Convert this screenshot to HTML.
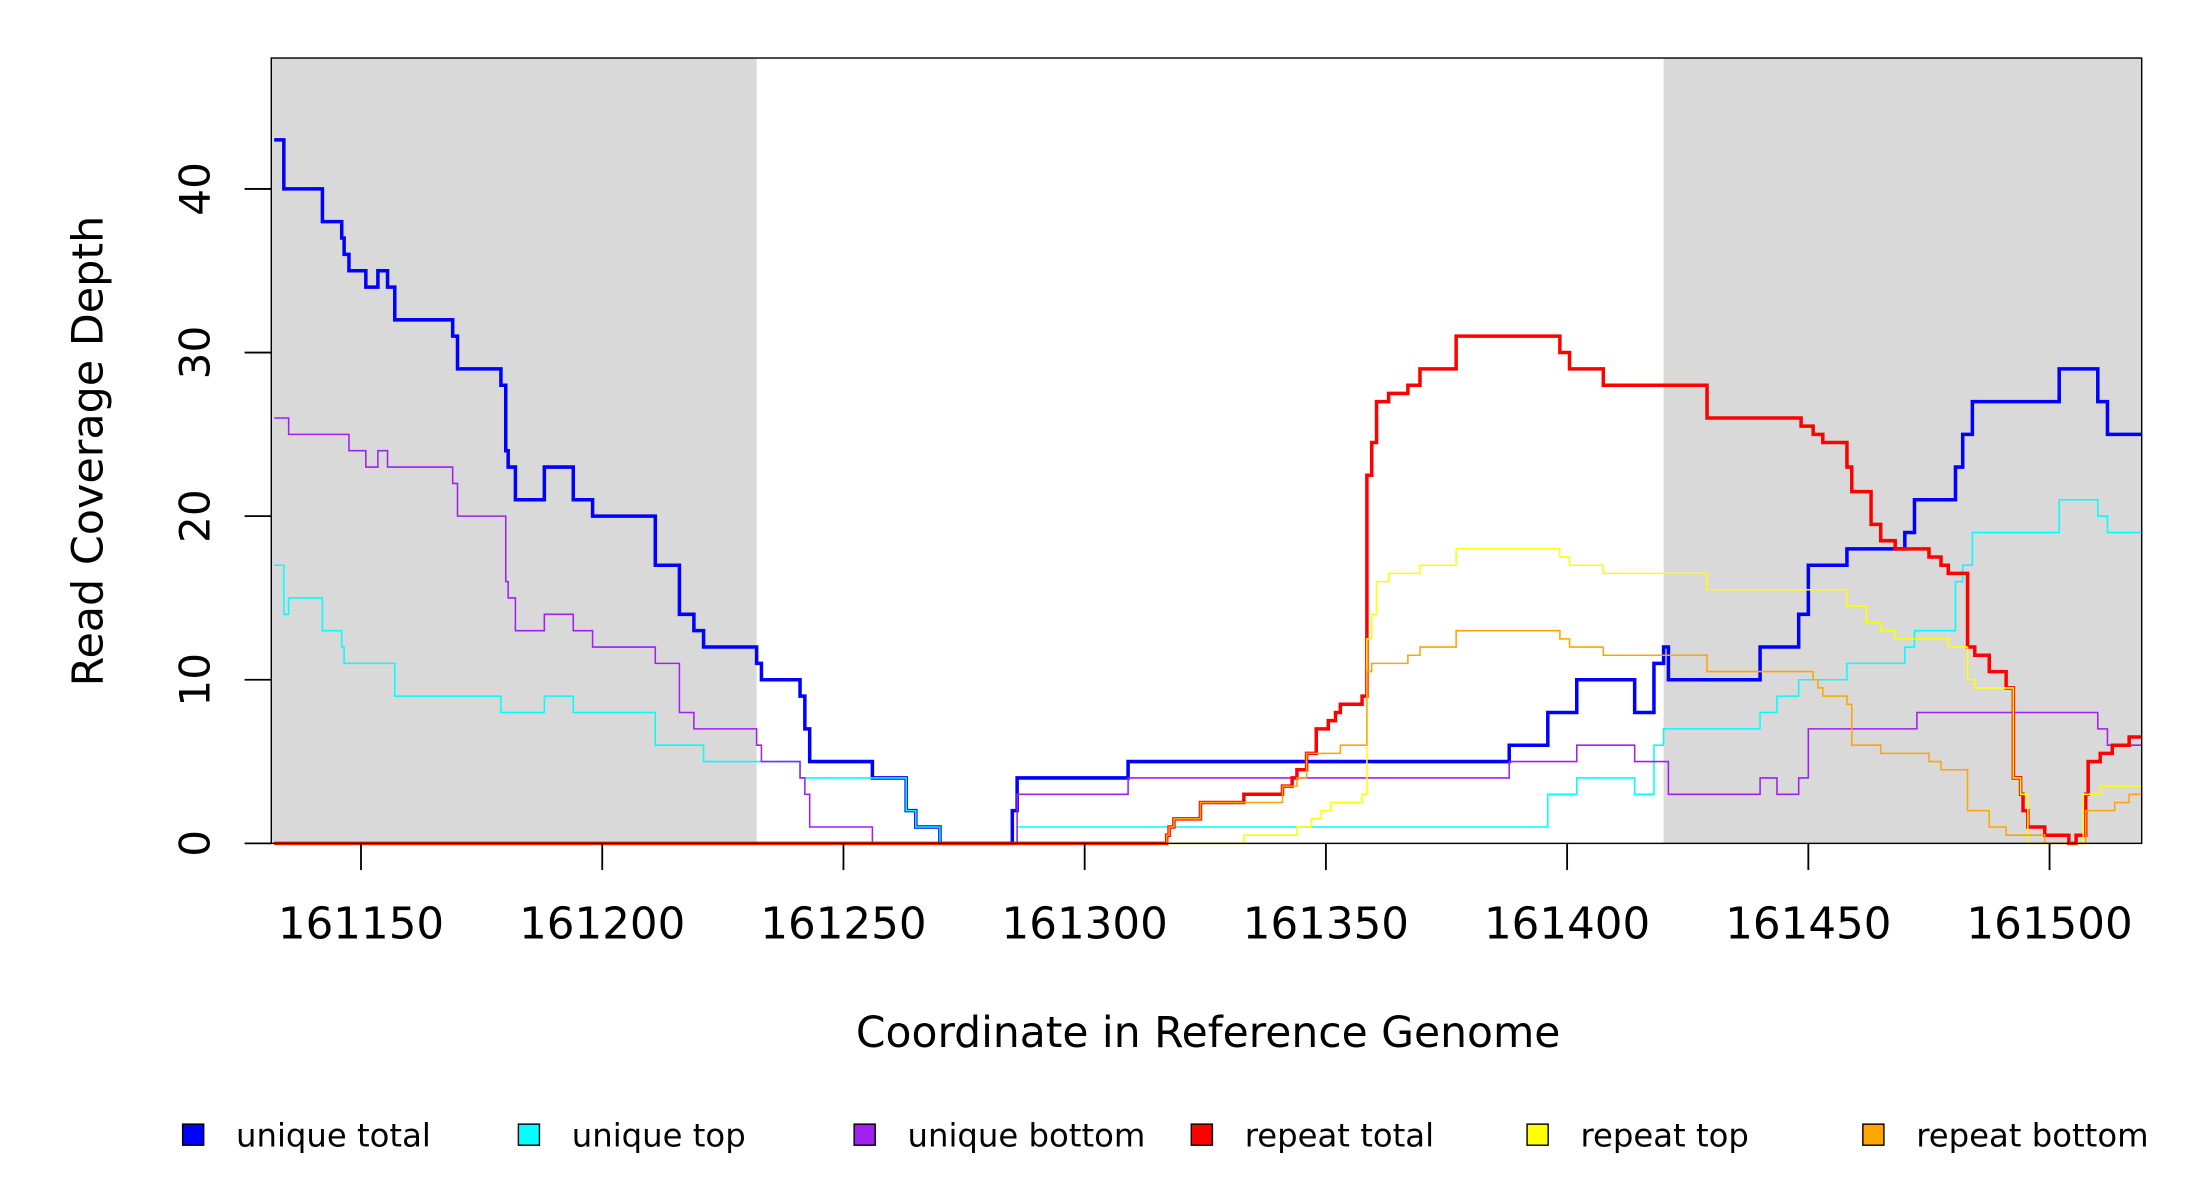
<!DOCTYPE html>
<html><head><meta charset="utf-8"><style>
html,body{margin:0;padding:0;background:#fff}
svg{display:block}
text{font-family:"DejaVu Sans","Liberation Sans",sans-serif;fill:#000}
</style></head><body>
<svg id="chart" width="2200" height="1200" viewBox="0 0 1566 854" preserveAspectRatio="none" xmlns="http://www.w3.org/2000/svg">
<g id="bg"></g>
<g id="series"></g>
<g id="axes"></g>
<text transform="translate(73,321) rotate(-90)" text-anchor="middle" font-size="30.5">Read Coverage Depth</text>
<text x="860" y="745" text-anchor="middle" font-size="30.2">Coordinate in Reference Genome</text>
<g id="legend"></g>
</svg>
<script>
const xTicks = [161150,161200,161250,161300,161350,161400,161450,161500];
const yTicks = [0,10,20,30,40];
const shadeRegions = [[161131.4,161232],[161420,161519.1]];
const seriesNames = ["unique total","unique top","unique bottom","repeat total","repeat top","repeat bottom"];
const seriesColors = ["#0000FF","#00FFFF","#A020F0","#FF0000","#FFFF00","#FFA500"];
const seriesWidths = [2.5,1.1,1.1,2.5,1.1,1.1];
const uniqueTotalStart = [132,134,142,146,146.5,147.5,151,153.5,155.5,157,169,170,179,180,180.5,182,188,194,198,211,216,219,221,232,233,241,242,243,256,263,265,270,285,286,309,388,396,402,414,418,420,421,440,448,450,458,470,472,480.5,482,484,502,510,512];
const uniqueTotalVal = [43,40,38,37,36,35,34,35,34,32,31,29,28,24,23,21,23,21,20,17,14,13,12,11,10,9,7,5,4,2,1,0,2,4,5,6,8,10,8,11,12,10,12,14,17,18,19,21,23,25,27,29,27,25];
const uniqueTopStart = [132,134,135,142,146,146.5,157,179,188,194,211,221,241,263,265,270,286,396,402,414,418,420,440,443.5,448,458,470,472,480.5,482,484,502,510,512];
const uniqueTopVal = [17,14,15,13,12,11,9,8,9,8,6,5,4,2,1,0,1,3,4,3,6,7,8,9,10,11,12,13,16,17,19,21,20,19];
const uniqueBottomStart = [132,135,147.5,151,153.5,155.5,169,170,180,180.5,182,188,194,198,211,216,219,232,233,241,242,243,256,286,309,388,402,414,421,440,443.5,448,450,472.5,510,512];
const uniqueBottomVal = [26,25,24,23,24,23,22,20,16,15,13,14,13,12,11,8,7,6,5,4,3,1,0,3,4,5,6,5,3,4,3,4,7,8,7,6];
const repeatTotalStart = [132,317,317.5,318.5,324,333,341,343,344,346,348,350.5,352,353,357.5,358.5,359.5,360.5,363,367,369.5,377,398.5,400.5,407.5,429,448.5,451,453,458,459,463,465,468,475,477.5,479,483,484.5,487.5,491,492.5,494,494.5,495.5,499,504,505.5,507.5,508,510.5,513,516.5];
const repeatTotalVal = [0,0.5,1,1.5,2.5,3,3.5,4,4.5,5.5,7,7.5,8,8.5,9,22.5,24.5,27,27.5,28,29,31,30,29,28,26,25.5,25,24.5,23,21.5,19.5,18.5,18,17.5,17,16.5,12,11.5,10.5,9.5,4,3,2,1,0.5,0,0.5,3,5,5.5,6,6.5];
const repeatTopStart = [132,333,344,347,349,351,357.5,358.5,359.5,360.5,363,369.5,377,398.5,400.5,407.5,429,458,462,465,468,479,483,484.5,492.5,494,495.5,507,510.5];
const repeatTopVal = [0,0.5,1,1.5,2,2.5,3,12.5,14,16,16.5,17,18,17.5,17,16.5,15.5,14.5,13.5,13,12.5,12,10,9.5,4,3,0,3,3.5];
const repeatBottomStart = [132,317,317.5,318.5,324,341,344,346,353,358.5,359.5,367,369.5,377,398.5,400.5,407.5,429,451,452,453,458,459,465,475,477.5,483,487.5,491,499,507.5,513.5,516.5];
const repeatBottomVal = [0,0.5,1,1.5,2.5,3.5,4,5.5,6,10.5,11,11.5,12,13,12.5,12,11.5,10.5,10,9.5,9,8.5,6,5.5,5,4.5,2,1,0.5,0,2,2.5,3];

const BASE = 161000;
const X0 = 193.1, X1 = 1524.5, Y0 = 600.2, Y1 = 41.3;
const xMin = 161131.4, xMax = 161519.1, yMin = 0, yMax = 48;
const NS = "http://www.w3.org/2000/svg";
function xs(c){ return X0 + (c - xMin) / (xMax - xMin) * (X1 - X0); }
function ys(v){ return Y0 - (v - yMin) / (yMax - yMin) * (Y0 - Y1); }
function mk(tag, parent){ const e = document.createElementNS(NS, tag); parent.appendChild(e); return e; }

const bg = document.getElementById('bg');
shadeRegions.forEach(r => {
  const e = mk('rect', bg);
  
  
  e.setAttribute('x', xs(r[0])); e.setAttribute('y', Y1);
  e.setAttribute('width', xs(r[1]) - xs(r[0])); e.setAttribute('height', Y0 - Y1);
  e.setAttribute('fill', '#D9D9D9');
});

const starts = [uniqueTotalStart, uniqueTopStart, uniqueBottomStart, repeatTotalStart, repeatTopStart, repeatBottomStart];
const vals = [uniqueTotalVal, uniqueTopVal, uniqueBottomVal, repeatTotalVal, repeatTopVal, repeatBottomVal];
const sg = document.getElementById('series');
[0,1,2,3,4,5].forEach(i => {
  const s = starts[i], v = vals[i];
  let d = 'M' + xs(BASE + s[0]).toFixed(2) + ' ' + ys(v[0]).toFixed(2);
  for (let k = 1; k < s.length; k++) {
    d += ' H' + xs(BASE + s[k]).toFixed(2) + ' V' + ys(v[k]).toFixed(2);
  }
  d += ' H' + xs(xMax).toFixed(2);
  const p = mk('path', sg);
  
  
  p.setAttribute('d', d);
  p.setAttribute('fill', 'none');
  p.setAttribute('stroke', seriesColors[i]);
  p.setAttribute('stroke-width', seriesWidths[i]);
});

const ax = document.getElementById('axes');
const frame = mk('rect', ax);


frame.setAttribute('x', X0); frame.setAttribute('y', Y1);
frame.setAttribute('width', X1 - X0); frame.setAttribute('height', Y0 - Y1);
frame.setAttribute('fill', 'none'); frame.setAttribute('stroke', '#000'); frame.setAttribute('stroke-width', 1);
xTicks.forEach(t => {
  const l = mk('line', ax);
  
  
  l.setAttribute('x1', xs(t)); l.setAttribute('x2', xs(t));
  l.setAttribute('y1', Y0); l.setAttribute('y2', Y0 + 19);
  l.setAttribute('stroke', '#000'); l.setAttribute('stroke-width', 1.3);
  const tx = mk('text', ax);
  
  
  tx.setAttribute('x', xs(t)); tx.setAttribute('y', 668);
  tx.setAttribute('text-anchor', 'middle'); tx.setAttribute('font-size', 31);
  tx.textContent = t;
});
yTicks.forEach(t => {
  const l = mk('line', ax);
  
  
  l.setAttribute('x1', X0 - 19); l.setAttribute('x2', X0);
  l.setAttribute('y1', ys(t)); l.setAttribute('y2', ys(t));
  l.setAttribute('stroke', '#000'); l.setAttribute('stroke-width', 1.3);
  const tx = mk('text', ax);
  
  
  tx.setAttribute('transform', 'translate(149,' + ys(t) + ') rotate(-90)');
  tx.setAttribute('text-anchor', 'middle'); tx.setAttribute('font-size', 30);
  tx.textContent = t;
});

const lg = document.getElementById('legend');
const legendX = [130, 369, 608, 848, 1087, 1326];
seriesNames.forEach((n, i) => {
  const r = mk('rect', lg);
  
  
  r.setAttribute('x', legendX[i]); r.setAttribute('y', 800);
  r.setAttribute('width', 15); r.setAttribute('height', 15);
  r.setAttribute('fill', seriesColors[i]); r.setAttribute('stroke', '#000'); r.setAttribute('stroke-width', 1);
  const t = mk('text', lg);
  
  
  t.setAttribute('x', legendX[i] + 38); t.setAttribute('y', 816);
  t.setAttribute('font-size', 23);
  t.textContent = n;
});
</script>
</body></html>
